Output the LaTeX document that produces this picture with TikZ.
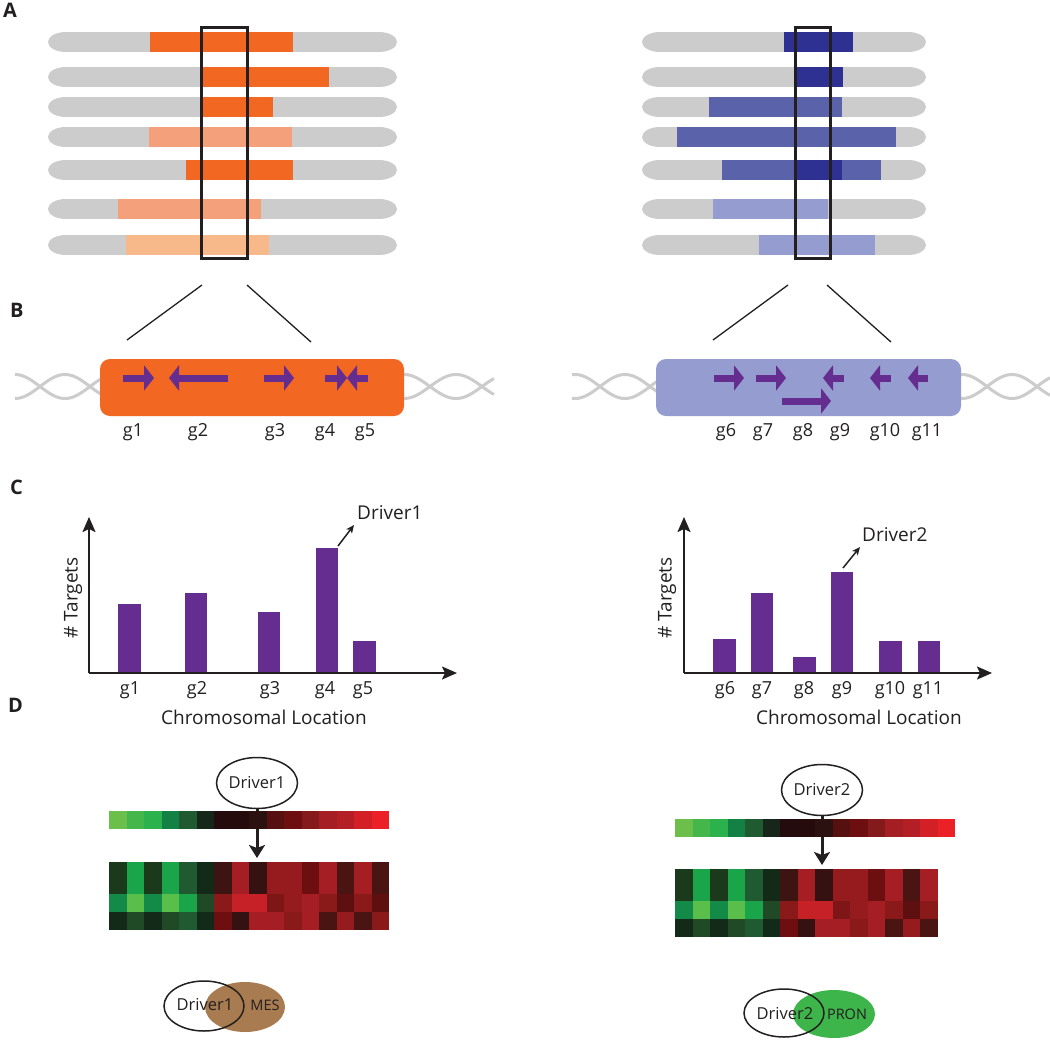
\documentclass[tikz,border=0pt]{standalone}
\usepackage{fontspec}
\setmainfont{Open Sans}
\usetikzlibrary{arrows.meta,shapes.geometric}
\definecolor{gr}{HTML}{CCCCCC}
\definecolor{orD}{HTML}{F26722}
\definecolor{orM}{HTML}{F4A07A}
\definecolor{orL}{HTML}{F8B98A}
\definecolor{blD}{HTML}{2E3192}
\definecolor{blM}{HTML}{5A62AA}
\definecolor{blL}{HTML}{959CCF}
\definecolor{purp}{HTML}{662D91}
\definecolor{ink}{HTML}{231F20}
\definecolor{mes}{HTML}{A87C50}
\definecolor{pron}{HTML}{3DB54A}
\newcommand\chrom[3]{\fill[gr] (#1+18,#3) ellipse [x radius=18,y radius=10];
  \fill[gr] (#2-18,#3) ellipse [x radius=18,y radius=10];
  \fill[gr] (#1+18,#3-10) rectangle (#2-18,#3+10);}
\newcommand\hmrow[4]{\foreach \c [count=\i from 0] in {#4} {\definecolor{hmc}{HTML}{\c}\fill[hmc] ({#1+\i*17.5},#2) rectangle ++(17.8,#3);}}
\tikzset{
  lab/.style={font=\fontsize{20}{24}\bfseries\selectfont, text=ink, anchor=base west, inner sep=0},
  gl/.style={font=\fontsize{18}{22}\selectfont, text=ink, anchor=base, inner sep=0},
  axl/.style={font=\fontsize{19}{23}\selectfont, text=ink, inner sep=0},
  abox/.style={draw=ink, line width=3pt, inner sep=0},
  zline/.style={draw=ink, line width=1.3pt},
  dna/.style={gr, line width=3pt},
  garrow/.style={purp, line width=7pt, -{Triangle[width=25pt,length=10pt]}},
  bar/.style={fill=purp},
  axis/.style={ink, line width=2pt, -{Stealth[length=15pt,width=13pt,inset=3pt]}},
  darr/.style={ink, line width=1.5pt, -{Stealth[length=8pt,width=7pt,inset=2pt]}},
  hmarr/.style={ink, line width=3pt, -{Stealth[length=13pt,width=16pt,inset=3pt]}},
  ell/.style={ellipse, draw=ink, line width=1.5pt, inner sep=0, minimum width=81pt, minimum height=51pt, font=\fontsize{16.5}{20}\selectfont, text=ink},
}
\begin{document}
\begin{tikzpicture}[x=1pt,y=-1pt]
\path[use as bounding box] (0,0) rectangle (1050,1042);
\fill[white] (0,0) rectangle (1050,1042);
% ---------- panel labels
\node[lab] (labA) at (3,17) {A};
\node[lab] (labB) at (10,317) {B};
\node[lab] (labC) at (10,494) {C};
\node[lab] (labD) at (8,712) {D};
% ---------- A left
\foreach \y in {42,77,107,137,170,209,245} {\chrom{48}{397}{\y}}
\fill[orD] (150,32) rectangle (293,52);
\fill[orD] (203,67) rectangle (329,87);
\fill[orD] (203,97) rectangle (273,117);
\fill[orM] (149,127) rectangle (292,147);
\fill[orD] (186,160) rectangle (293,180);
\fill[orM] (118,199) rectangle (261,219);
\fill[orL] (126,235) rectangle (269,255);
\node[abox, minimum width=46pt, minimum height=231pt] (boxL) at (224,142.5) {};
% ---------- A right
\foreach \y in {42,77,107,137,170,209,245} {\chrom{642}{926}{\y}}
\fill[blD] (784,32) rectangle (853,52);
\fill[blD] (796,67) rectangle (843,87);
\fill[blM] (709,97) rectangle (842,117);
\fill[blM] (677,127) rectangle (896,147);
\fill[blM] (722,160) rectangle (881,180);
\fill[blD] (796,160) rectangle (842,180);
\fill[blL] (713,199) rectangle (828,219);
\fill[blL] (759,235) rectangle (875,255);
\node[abox, minimum width=35pt, minimum height=231pt] (boxR) at (812.5,142.5) {};
% ---------- B zoom lines
\coordinate (zl1) at (202,285); \coordinate (zl2) at (127,340);
\coordinate (zl3) at (247,285); \coordinate (zl4) at (311,342);
\draw[zline] (zl1) -- (zl2); \draw[zline] (zl3) -- (zl4);
\coordinate (zr1) at (788,285); \coordinate (zr2) at (713,340);
\coordinate (zr3) at (827,285); \coordinate (zr4) at (891,342);
\draw[zline] (zr1) -- (zr2); \draw[zline] (zr3) -- (zr4);
% ---------- B DNA strands
\foreach \s in {1,-1} {
  \draw[dna] plot[domain=15:110, samples=60, smooth] (\x,{386.5+\s*12*sin(3.6*(\x-40))});
  \draw[dna] plot[domain=395:494, samples=60, smooth] (\x,{386.5+\s*12*sin(3.4615*(\x-430))});
  \draw[dna] plot[domain=572:665, samples=60, smooth] (\x,{386.5+\s*12*sin(3.6*(\x-600))});
  \draw[dna] plot[domain=952:1050, samples=60, smooth] (\x,{386.5+\s*12*sin(3.6*(\x-987))});
}
\node[fill=orD, rounded corners=10pt, minimum width=304pt, minimum height=57pt, inner sep=0] (regL) at (252,387.5) {};
\node[fill=blL, rounded corners=10pt, minimum width=305pt, minimum height=57pt, inner sep=0] (regR) at (808.5,387.5) {};
% gene arrows left
\draw[garrow] (123,378) -- (154,378);
\draw[garrow] (228,378) -- (169,378);
\draw[garrow] (264,378) -- (294,378);
\draw[garrow] (325,378) -- (347,378);
\draw[garrow] (368,378) -- (347,378);
% gene arrows right
\draw[garrow] (714,378) -- (744,378);
\draw[garrow] (756,378) -- (786,378);
\draw[garrow] (782,401) -- (831,401);
\draw[garrow] (844,378) -- (823,378);
\draw[garrow] (891,378) -- (870,378);
\draw[garrow] (928,378) -- (908,378);
% gene labels B
\node[gl] (bg1) at (133,436) {g1};
\node[gl] (bg2) at (198,436) {g2};
\node[gl] (bg3) at (275,436) {g3};
\node[gl] (bg4) at (325,436) {g4};
\node[gl] (bg5) at (365,436) {g5};
\node[gl] (bg6) at (726,436) {g6};
\node[gl] (bg7) at (763,436) {g7};
\node[gl] (bg8) at (803,436) {g8};
\node[gl] (bg9) at (840,436) {g9};
\node[gl] (bg10) at (885,436) {g10};
\node[gl] (bg11) at (927,436) {g11};
% ---------- C left
\fill[purp] (118,604) rectangle (141,673);
\fill[purp] (185,593) rectangle (207,673);
\fill[purp] (258,612) rectangle (280,673);
\fill[purp] (316,548) rectangle (338,673);
\fill[purp] (353,641) rectangle (376,673);
\coordinate (oL) at (89,673); \coordinate (yL) at (89,517); \coordinate (xL) at (457,673);
\draw[axis] (oL) -- (yL); \draw[axis] (oL) -- (xL);
\node[gl] (cg1) at (130,694) {g1};
\node[gl] (cg2) at (197,694) {g2};
\node[gl] (cg3) at (270,694) {g3};
\node[gl] (cg4) at (325,694) {g4};
\node[gl] (cg5) at (363,694) {g5};
\node[axl, anchor=base] (clocL) at (264,724) {Chromosomal Location};
\node[axl, rotate=90] (tgtL) at (73,598) {\# Targets};
\node[axl, anchor=base west] (drv1) at (357,519) {Driver1};
\coordinate (pk1) at (338,546); \coordinate (pk1e) at (354,525);
\draw[darr] (pk1) -- (pk1e);
% ---------- C right
\fill[purp] (713,639) rectangle (736,673);
\fill[purp] (751,593) rectangle (773,673);
\fill[purp] (793,657) rectangle (816,673);
\fill[purp] (831,572) rectangle (853,673);
\fill[purp] (879,641) rectangle (902,673);
\fill[purp] (918,641) rectangle (940,673);
\coordinate (oR) at (684,673); \coordinate (yR) at (684,517); \coordinate (xR) at (992,673);
\draw[axis] (oR) -- (yR); \draw[axis] (oR) -- (xR);
\node[gl] (cg6) at (725,694) {g6};
\node[gl] (cg7) at (762,694) {g7};
\node[gl] (cg8) at (804,694) {g8};
\node[gl] (cg9) at (842,694) {g9};
\node[gl] (cg10) at (890,694) {g10};
\node[gl] (cg11) at (928,694) {g11};
\node[axl, anchor=base] (clocR) at (859,724) {Chromosomal Location};
\node[axl, rotate=90] (tgtR) at (667,598) {\# Targets};
\node[axl, anchor=base west] (drv2) at (862,541) {Driver2};
\coordinate (pk2) at (843,568); \coordinate (pk2e) at (860,547);
\draw[darr] (pk2) -- (pk2e);
% ---------- D left
\node[ell] (d1) at (257,783) {Driver1};
\coordinate (h1top) at (257,858);
\draw[hmarr] (d1.south) -- (h1top);
\hmrow{109}{811}{18}{6CBF4A,45B649,2BB24C,138044,1F5A30,16261A,240B0D,260B0D,2B1210,55100F,6D0F10,851A1C,A51E23,B31F24,D31F26,EC2027}
\hmrow{109}{862}{32}{1B3A1C,1BA54A,1B3A1C,1BA54A,1F5A30,142A19,3E1412,A51E23,351211,961B1F,961B1F,6D0F10,A51E23,4A1413,A51E23,4A1413}
\hmrow{109}{894}{18}{138A48,5ABF4A,138A48,5ABF4A,1BA54A,1F4A25,8A1A1A,C62127,C62127,7E1618,961B1F,A51E23,8A1A1A,5E0F10,8A1A1A,5E0F10}
\hmrow{109}{912}{18}{142A19,1F4A25,142A19,1F4A25,1F5A30,142A19,6D0F10,351211,A51E23,A51E23,8A1A1A,A51E23,4A1413,961B1F,4A1413,8A1A1A}
% ---------- D right
\node[ell] (d2) at (822,790) {Driver2};
\coordinate (h2top) at (822,865);
\draw[hmarr] (d2.south) -- (h2top);
\hmrow{675}{819}{18}{6CBF4A,45B649,2BB24C,138044,1F5A30,16261A,240B0D,260B0D,2B1210,55100F,6D0F10,851A1C,A51E23,B31F24,D31F26,EC2027}
\hmrow{675}{869}{32}{1B3A1C,1BA54A,1B3A1C,1BA54A,1F5A30,142A19,3E1412,A51E23,351211,961B1F,961B1F,6D0F10,A51E23,4A1413,A51E23}
\hmrow{675}{901}{18}{138A48,5ABF4A,138A48,5ABF4A,1BA54A,1F4A25,8A1A1A,C62127,C62127,7E1618,961B1F,A51E23,8A1A1A,5E0F10,8A1A1A}
\hmrow{675}{919}{18}{142A19,1F4A25,142A19,1F4A25,1F5A30,142A19,6D0F10,351211,A51E23,A51E23,8A1A1A,A51E23,4A1413,961B1F,4A1413}
% ---------- Venn left
\node[ellipse, fill=mes, inner sep=0, minimum width=80pt, minimum height=50pt] (mes) at (245,1007) {};
\node[ellipse, draw=ink, line width=1.5pt, inner sep=0, minimum width=80pt, minimum height=50pt] (vd1) at (204,1006) {};
\node[font=\fontsize{16.5}{20}\selectfont, text=ink, inner sep=0] (vd1t) at (205,1005) {Driver1};
\node[font=\fontsize{14.5}{18}\selectfont, text=ink, inner sep=0] (mest) at (265,1005) {MES};
% ---------- Venn right
\node[ellipse, fill=pron, inner sep=0, minimum width=82pt, minimum height=48pt] (pron) at (834,1014) {};
\node[ellipse, draw=ink, line width=1.5pt, inner sep=0, minimum width=80pt, minimum height=48pt] (vd2) at (784,1013) {};
\node[font=\fontsize{16.5}{20}\selectfont, text=ink, inner sep=0] (vd2t) at (785,1014) {Driver2};
\node[font=\fontsize{14.5}{18}\selectfont, text=ink, inner sep=0] (pront) at (847,1014) {PRON};
\end{tikzpicture}
\end{document}
